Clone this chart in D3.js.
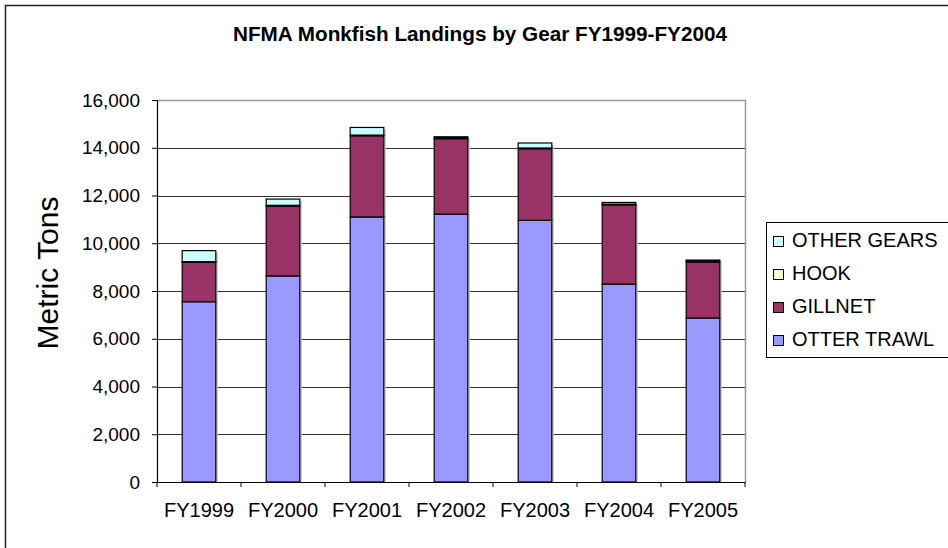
<!DOCTYPE html>
<html>
<head>
<meta charset="utf-8">
<script src="https://cdn.jsdelivr.net/npm/d3@7"></script>
<style>
  body { margin: 0; background: #fff; }
  svg { display: block; font-family: Arial, "Liberation Sans", sans-serif; }
</style>
</head>
<body>
<div id="chart"></div>
<script>
const years = ['FY1999', 'FY2000', 'FY2001', 'FY2002', 'FY2003', 'FY2004', 'FY2005'];
const otterTrawl = [7550, 8630, 11100, 11220, 10960, 8290, 6870];
const gillnet = [1650, 2930, 3400, 3160, 3000, 3320, 2345];
const hook = [30, 30, 30, 40, 30, 30, 30];
const otherGears = [460, 260, 320, 40, 210, 70, 50];
const yTicks = [0, 2000, 4000, 6000, 8000, 10000, 12000, 14000, 16000];

const series = [
  { name: 'OTTER TRAWL', values: otterTrawl, color: '#9999ff' },
  { name: 'GILLNET', values: gillnet, color: '#993366' },
  { name: 'HOOK', values: hook, color: '#ffffcc' },
  { name: 'OTHER GEARS', values: otherGears, color: '#ccffff' }
];

const width = 948, height = 548;
const plot = { left: 157, top: 100, right: 745, bottom: 482 };
const font = 'Arial, "Liberation Sans", sans-serif';

const svg = d3.select('#chart').append('svg')
  .attr('width', width).attr('height', height);

// outer chart border
svg.append('rect')
  .attr('x', 5.5).attr('y', 5.5)
  .attr('width', width).attr('height', height)
  .attr('fill', 'none').attr('stroke', '#222').attr('stroke-width', 1.5);

const table = years.map((y, i) => {
  const row = { year: y };
  series.forEach(s => { row[s.name] = s.values[i]; });
  return row;
});
const stacked = d3.stack().keys(series.map(s => s.name))(table);
const totals = table.map(d => d3.sum(series, s => d[s.name]));

const x = d3.scaleBand().domain(years)
  .range([plot.left, plot.right]).paddingInner(0.6).paddingOuter(0.3);
const xOuter = d3.scaleBand().domain(years).range([plot.left, plot.right]);
const y = d3.scaleLinear().domain([0, 16000]).range([plot.bottom, plot.top]);

// gridlines
svg.append('g')
  .selectAll('line')
  .data(yTicks.filter(d => d > 0 && d < 16000))
  .join('line')
  .attr('x1', plot.left).attr('x2', plot.right)
  .attr('y1', d => Math.round(y(d)) + 0.5).attr('y2', d => Math.round(y(d)) + 0.5)
  .attr('stroke', '#333').attr('stroke-width', 1);

// plot area border (top and right)
svg.append('path')
  .attr('d', `M${plot.left},${plot.top + 0.5}H${plot.right + 0.5}V${plot.bottom}`)
  .attr('fill', 'none').attr('stroke', '#999').attr('stroke-width', 1.5);

// light shadow on the right of each bar
svg.append('g')
  .selectAll('rect')
  .data(table)
  .join('rect')
  .attr('x', d => x(d.year) + 2)
  .attr('y', (d, i) => y(totals[i]) + 2)
  .attr('width', x.bandwidth())
  .attr('height', (d, i) => plot.bottom - y(totals[i]) - 2)
  .attr('fill', '#c8c8c8');

// bars
svg.append('g').selectAll('g')
  .data(stacked)
  .join('g')
  .attr('fill', (d, i) => series[i].color)
  .selectAll('rect')
  .data(d => d)
  .join('rect')
  .attr('x', d => x(d.data.year))
  .attr('y', d => y(d[1]))
  .attr('width', x.bandwidth())
  .attr('height', d => y(d[0]) - y(d[1]))
  .attr('stroke', '#000').attr('stroke-width', 1.2);

// y axis
const yAxis = svg.append('g')
  .attr('transform', `translate(${plot.left},0)`)
  .call(d3.axisLeft(y).tickValues(yTicks).tickSize(5).tickPadding(12)
    .tickFormat(d3.format(',')));
yAxis.select('.domain').attr('stroke', '#000').attr('stroke-width', 1.2);
yAxis.selectAll('.tick line').attr('stroke', '#000');
yAxis.selectAll('text').attr('font-size', 19).attr('fill', '#000')
  .attr('font-family', font);

// x axis
const xAxis = svg.append('g')
  .attr('transform', `translate(0,${plot.bottom})`)
  .call(d3.axisBottom(xOuter).tickSize(0).tickPadding(21));
xAxis.select('.domain').attr('stroke', '#000').attr('stroke-width', 1.2);
xAxis.selectAll('text').attr('font-size', 20).attr('fill', '#000')
  .attr('font-family', font);
xAxis.selectAll('line.sep')
  .data(years.concat(['end']))
  .join('line').attr('class', 'sep')
  .attr('x1', (d, i) => plot.left + i * xOuter.step())
  .attr('x2', (d, i) => plot.left + i * xOuter.step())
  .attr('y1', 0).attr('y2', 5)
  .attr('stroke', '#000');

// y axis title
svg.append('text')
  .attr('transform', `translate(50,${(plot.top + plot.bottom) / 2 - 18}) rotate(-90)`)
  .attr('text-anchor', 'middle').attr('dominant-baseline', 'middle')
  .attr('font-size', 30).text('Metric Tons');

// chart title
svg.append('text')
  .attr('x', 480).attr('y', 41)
  .attr('text-anchor', 'middle')
  .attr('font-size', 20).attr('font-weight', 'bold')
  .attr('textLength', 494).attr('lengthAdjust', 'spacingAndGlyphs')
  .text('NFMA Monkfish Landings by Gear FY1999-FY2004');

// legend
const legend = svg.append('g').attr('transform', 'translate(766,222)');
legend.append('rect')
  .attr('x', 0.5).attr('y', 0.5).attr('width', 200).attr('height', 135)
  .attr('fill', '#fff').attr('stroke', '#000');
const items = legend.selectAll('g.item')
  .data(series.slice().reverse())
  .join('g').attr('class', 'item')
  .attr('transform', (d, i) => `translate(0,${19 + i * 33})`);
items.append('rect')
  .attr('x', 7.5).attr('y', -4.5).attr('width', 10).attr('height', 10)
  .attr('fill', d => d.color).attr('stroke', '#000');
items.append('text')
  .attr('x', 26).attr('y', 1)
  .attr('dominant-baseline', 'middle')
  .attr('font-size', 20).text(d => d.name);
</script>
</body>
</html>
